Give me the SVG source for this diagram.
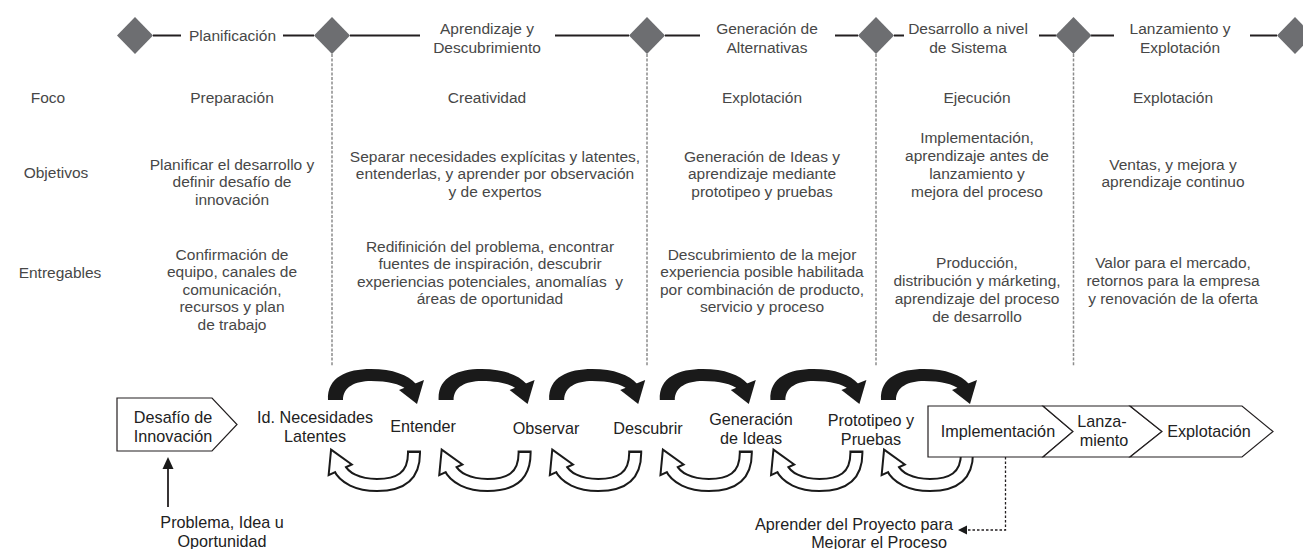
<svg xmlns="http://www.w3.org/2000/svg" width="1303" height="549" viewBox="0 0 1303 549">
<style>
text{font-family:"Liberation Sans",Arial,sans-serif;font-size:15.5px;fill:#474747;text-anchor:middle}
.b{font-size:16.2px;fill:#222}
.dia{fill:#6d6e71}
.hl{stroke:#231f20;stroke-width:2;fill:none}
.sep{stroke:#8c8c8c;stroke-width:1.5;stroke-dasharray:3 1.6;fill:none}
.box{fill:#fff;stroke:#231f20;stroke-width:1.2}
.ink{fill:#1a1a1a}
</style>
<defs>
<g id="cycle">
<path class="ink" d="M328 400 C327 377 347 369 371 369 C393 369 408 375 416 384 L406 389 C400 384 388 381 371 381 C355 381 343 387 343 400 Z"/>
<polygon class="ink" points="399,390 424,380 417,404"/>
<path d="M414 450.5 L414 453 C414 478 398 485 377 485 C358 485 344 478 339 467" stroke="#1a1a1a" stroke-width="14" fill="none"/>
<polygon points="331.9,451.5 349.8,464.3 329.8,473.4" fill="#1a1a1a" stroke="#1a1a1a" stroke-width="4"/>
<path d="M414 453 C414 478 398 485 377 485 C358 485 344 478 339 467" stroke="#fff" stroke-width="10" fill="none"/>
<polygon points="331.9,451.5 349.8,464.3 329.8,473.4" fill="#fff"/>
</g>
</defs>

<g id="connectors">
<g id="timeline">
<line class="hl" x1="153" y1="35.5" x2="181" y2="35.5"/>
<line class="hl" x1="283" y1="35.5" x2="314" y2="35.5"/>
<line class="hl" x1="350" y1="35.5" x2="420" y2="35.5"/>
<line class="hl" x1="555" y1="35.5" x2="629" y2="35.5"/>
<line class="hl" x1="665" y1="35.5" x2="700" y2="35.5"/>
<line class="hl" x1="835" y1="35.5" x2="858" y2="35.5"/>
<line class="hl" x1="894" y1="35.5" x2="904" y2="35.5"/>
<line class="hl" x1="1039" y1="35.5" x2="1056" y2="35.5"/>
<line class="hl" x1="1091" y1="35.5" x2="1114" y2="35.5"/>
<line class="hl" x1="1250" y1="35.5" x2="1277" y2="35.5"/>
</g>
<g id="separators">
<line class="sep" x1="332" y1="54" x2="332" y2="366"/>
<line class="sep" x1="647" y1="54" x2="647" y2="366"/>
<line class="sep" x1="876" y1="54" x2="876" y2="366"/>
<line class="sep" x1="1073.5" y1="54" x2="1073.5" y2="366"/>
</g>
<g id="cycles">
<use href="#cycle"/>
<use href="#cycle" transform="translate(110.6,0)"/>
<use href="#cycle" transform="translate(221.2,0)"/>
<use href="#cycle" transform="translate(331.8,0)"/>
<use href="#cycle" transform="translate(442.4,0)"/>
<use href="#cycle" transform="translate(553,0)"/>
</g>
<g id="input-arrow">
<line x1="168" y1="507" x2="168" y2="467" stroke="#231f20" stroke-width="1.8"/>
<polygon class="ink" points="168,457 162.5,469 173.5,469"/>
</g>
<g id="feedback-arrow">
<path d="M1005.5 457 V530 H966" stroke="#231f20" stroke-width="1.3" stroke-dasharray="2.5 2" fill="none"/>
<polygon class="ink" points="958,530 967,525.5 967,534.5"/>
</g>
</g>

<g id="milestones">
<polygon id="m1" class="dia" points="135,17 153,35.5 135,54 117,35.5"/>
<polygon id="m2" class="dia" points="332,17 350,35.5 332,54 314,35.5"/>
<polygon id="m3" class="dia" points="647,17 665,35.5 647,54 629,35.5"/>
<polygon id="m4" class="dia" points="876,17 894,35.5 876,54 858,35.5"/>
<polygon id="m5" class="dia" points="1073.5,17 1091.5,35.5 1073.5,54 1055.5,35.5"/>
<polygon id="m6" class="dia" points="1295,17 1313,35.5 1295,54 1277,35.5"/>
</g>

<g id="row-labels">
<text x="48" y="102.5">Foco</text>
<text x="56" y="177.5">Objetivos</text>
<text x="60" y="277.5">Entregables</text>
</g>

<g id="phase-planificacion">
<text x="232.5" y="40.5">Planificación</text>
<text x="232" y="102.5">Preparación</text>
<text x="232" y="169.5">Planificar el desarrollo y</text>
<text x="232" y="187">definir desafío de</text>
<text x="232" y="204.5">innovación</text>
<text x="232" y="259.5">Confirmación de</text>
<text x="232" y="277">equipo, canales de</text>
<text x="232" y="294.5">comunicación,</text>
<text x="232" y="312">recursos y plan</text>
<text x="232" y="329.5">de trabajo</text>
</g>

<g id="phase-aprendizaje">
<text x="487" y="34">Aprendizaje y</text>
<text x="487" y="52.5">Descubrimiento</text>
<text x="487" y="102.5">Creatividad</text>
<text x="495" y="161.5">Separar necesidades explícitas y latentes,</text>
<text x="495" y="179">entenderlas, y aprender por observación</text>
<text x="495" y="196.5">y de expertos</text>
<text x="490" y="251.5">Redifinición del problema, encontrar</text>
<text x="490" y="269">fuentes de inspiración, descubrir</text>
<text x="490" y="286.5" xml:space="preserve">experiencias potenciales, anomalías  y</text>
<text x="490" y="304">áreas de oportunidad</text>
</g>

<g id="phase-generacion">
<text x="767" y="34">Generación de</text>
<text x="767" y="52.5">Alternativas</text>
<text x="762" y="102.5">Explotación</text>
<text x="762" y="161.5">Generación de Ideas y</text>
<text x="762" y="179">aprendizaje mediante</text>
<text x="762" y="196.5">prototipeo y pruebas</text>
<text x="762" y="259.5">Descubrimiento de la mejor</text>
<text x="762" y="277">experiencia posible habilitada</text>
<text x="762" y="294.5">por combinación de producto,</text>
<text x="762" y="312">servicio y proceso</text>
</g>

<g id="phase-desarrollo">
<text x="968" y="34">Desarrollo a nivel</text>
<text x="968" y="52.5">de Sistema</text>
<text x="977" y="102.5">Ejecución</text>
<text x="977" y="142.5">Implementación,</text>
<text x="977" y="160.5">aprendizaje antes de</text>
<text x="977" y="178.5">lanzamiento y</text>
<text x="977" y="196.5">mejora del proceso</text>
<text x="977" y="267.5">Producción,</text>
<text x="977" y="285.5">distribución y márketing,</text>
<text x="977" y="303.5">aprendizaje del proceso</text>
<text x="977" y="321.5">de desarrollo</text>
</g>

<g id="phase-lanzamiento">
<text x="1180" y="34">Lanzamiento y</text>
<text x="1180" y="52.5">Explotación</text>
<text x="1173" y="102.5">Explotación</text>
<text x="1173" y="169.5">Ventas, y mejora y</text>
<text x="1173" y="187">aprendizaje continuo</text>
<text x="1173" y="267.5">Valor para el mercado,</text>
<text x="1173" y="285.5">retornos para la empresa</text>
<text x="1173" y="303.5">y renovación de la oferta</text>
</g>

<g id="node-desafio">
<polygon class="box" points="117,398 212,398 237,424.5 212,451 117,451"/>
<text class="b" x="173" y="423">Desafío de</text>
<text class="b" x="173" y="442">Innovación</text>
</g>
<g id="node-necesidades">
<text class="b" x="315" y="422.5">Id. Necesidades</text>
<text class="b" x="315" y="441.5">Latentes</text>
</g>
<g id="node-entender"><text class="b" x="423" y="432">Entender</text></g>
<g id="node-observar"><text class="b" x="546" y="434">Observar</text></g>
<g id="node-descubrir"><text class="b" x="648" y="434">Descubrir</text></g>
<g id="node-generacion">
<text class="b" x="751" y="425">Generación</text>
<text class="b" x="751" y="443.5">de Ideas</text>
</g>
<g id="node-prototipeo">
<text class="b" x="871" y="426">Prototipeo y</text>
<text class="b" x="871" y="445">Pruebas</text>
</g>
<g id="node-implementacion">
<polygon class="box" points="928,406 1043,406 1073,431.5 1043,457 928,457"/>
<text class="b" x="998" y="437">Implementación</text>
</g>
<g id="node-lanzamiento">
<polygon class="box" points="1043,406 1130,406 1162,431.5 1130,457 1043,457 1073,431.5"/>
<text class="b" x="1102" y="426.5">Lanza-</text>
<text class="b" x="1104" y="445.5">miento</text>
</g>
<g id="node-explotacion">
<polygon class="box" points="1130,406 1242,406 1273,431.5 1242,457 1130,457 1162,431.5"/>
<text class="b" x="1209" y="437">Explotación</text>
</g>
<g id="node-problema">
<text class="b" x="222" y="528">Problema, Idea u</text>
<text class="b" x="222" y="547">Oportunidad</text>
</g>
<g id="node-aprender">
<text class="b" x="953" y="530" style="text-anchor:end">Aprender del Proyecto para</text>
<text class="b" x="947" y="548" style="text-anchor:end">Mejorar el Proceso</text>
</g>
</svg>
